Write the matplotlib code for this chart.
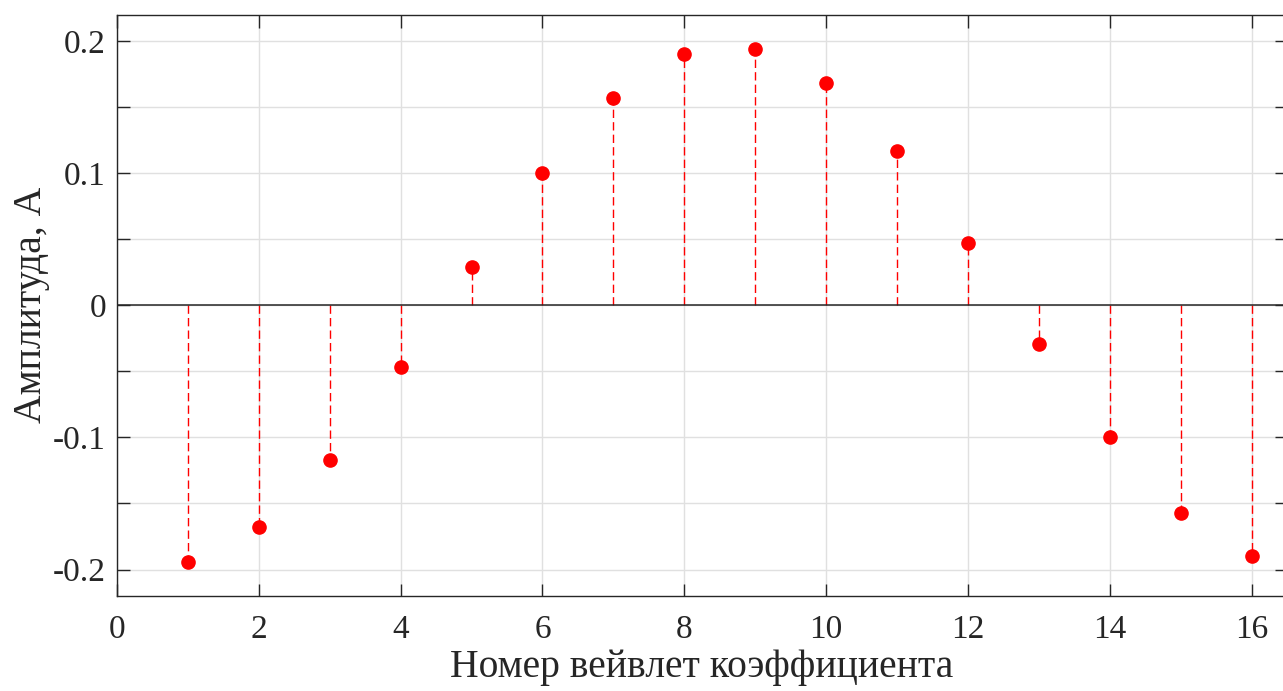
"""
Стем-график амплитуд вейвлет-коэффициентов (стиль MATLAB).
Выход: out.png
"""

import matplotlib

matplotlib.use("Agg")
import matplotlib.pyplot as plt
from matplotlib.ticker import FixedLocator, FixedFormatter

COEF_NUMBERS = list(range(1, 17))
AMPLITUDES = [
    -0.194, -0.168, -0.117, -0.047, 0.029, 0.100, 0.157, 0.190,
    0.194, 0.168, 0.117, 0.047, -0.029, -0.100, -0.157, -0.190,
]

X_TICKS = [0, 2, 4, 6, 8, 10, 12, 14, 16]
Y_TICKS = [-0.2, -0.15, -0.1, -0.05, 0.0, 0.05, 0.1, 0.15, 0.2]
Y_TICK_LABELS = ["-0.2", "", "-0.1", "", "0", "", "0.1", "", "0.2"]

X_LABEL = "Номер вейвлет коэффициента"
Y_LABEL = "Амплитуда, А"

TEXT_COLOR = "#262626"
STEM_COLOR = "#ff0000"
GRID_COLOR = "#e0e0e0"
FONT = ["Liberation Serif", "DejaVu Serif"]


def main() -> None:
    plt.rcParams["font.family"] = FONT
    plt.rcParams["axes.unicode_minus"] = False

    fig = plt.figure(figsize=(12.83, 6.91), dpi=100)
    ax = fig.add_axes([0.0912, 0.1375, 0.912, 0.8415])

    ax.grid(True, color=GRID_COLOR, linewidth=1.0, zorder=0)
    ax.set_axisbelow(True)

    ax.axhline(0, color=TEXT_COLOR, linewidth=1.1, zorder=3)

    markers, stems, base = ax.stem(
        COEF_NUMBERS, AMPLITUDES, linefmt="--", markerfmt="o", basefmt=" "
    )
    stems.set_color(STEM_COLOR)
    stems.set_linewidth(1.0)
    stems.set_linestyle((0, (6.0, 3.0)))
    stems.set_zorder(2)
    markers.set_color(STEM_COLOR)
    markers.set_markersize(9.5)
    markers.set_zorder(4)

    ax.set_xlim(0, 16.5)
    ax.set_ylim(-0.22, 0.22)
    ax.xaxis.set_major_locator(FixedLocator(X_TICKS))
    ax.xaxis.set_major_formatter(FixedFormatter([str(t) for t in X_TICKS]))
    ax.yaxis.set_major_locator(FixedLocator(Y_TICKS))
    ax.yaxis.set_major_formatter(FixedFormatter(Y_TICK_LABELS))

    ax.tick_params(
        axis="both", direction="in", length=9, width=1.0,
        colors=TEXT_COLOR, labelsize=24, top=True, right=True,
    )
    ax.tick_params(axis="x", pad=13)
    ax.tick_params(axis="y", pad=8)

    for spine in ax.spines.values():
        spine.set_color(TEXT_COLOR)
        spine.set_linewidth(1.0)

    ax.set_xlabel(X_LABEL, fontsize=28.5, color=TEXT_COLOR, labelpad=3)
    ax.set_ylabel(Y_LABEL, fontsize=28.5, color=TEXT_COLOR, labelpad=2)

    fig.savefig("out.png", dpi=100)
    plt.close(fig)


if __name__ == "__main__":
    main()
